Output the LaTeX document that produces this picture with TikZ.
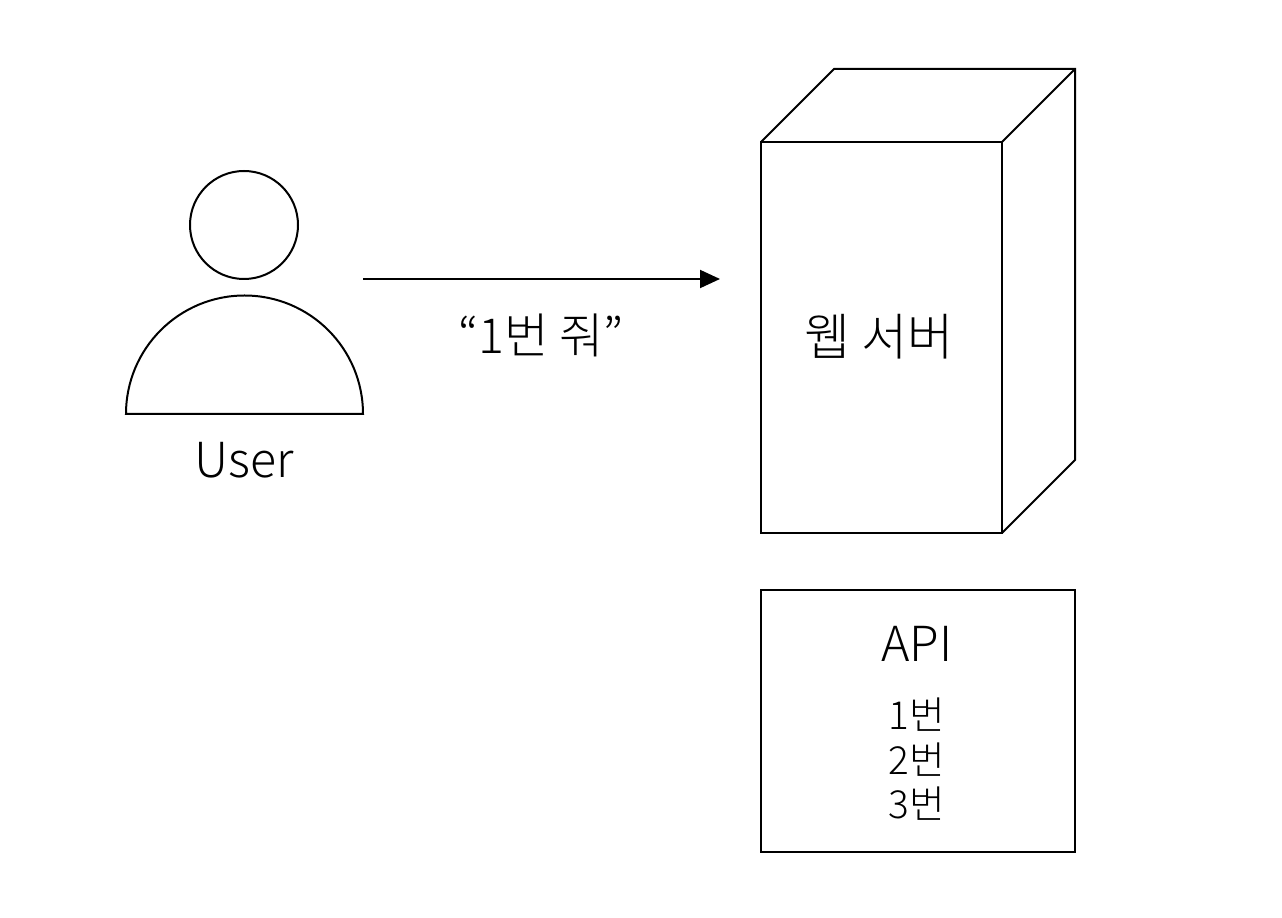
\documentclass[tikz,border=0pt]{standalone}
\usepackage{fontspec}
\setmainfont{Noto Sans CJK KR}[Scale=1.0,UprightFont=* Light]
\usetikzlibrary{arrows.meta}

\begin{document}
\begin{tikzpicture}[
  x=0.02cm, y=-0.02cm,
  font=\normalsize,
  tratto/.style={draw=black, line width=0.04cm},
  etichetta/.style={inner sep=0pt, scale=2.75},
  piccola/.style={inner sep=0pt, scale=2.2}
]
\useasboundingbox (0,0) rectangle (1282,918);

%--------------------------------------------------------------
% Utente
%--------------------------------------------------------------
\draw[tratto] (244,225) circle (54);
\draw[tratto] (126,414) arc[start angle=180, end angle=360, radius=118.5] -- cycle;
\node[etichetta] (utente) at (244,460) {User};

%--------------------------------------------------------------
% Richiesta
%--------------------------------------------------------------
\coordinate (da) at (363,279);
\coordinate (a) at (720,279);
\draw[tratto, -{Triangle[length=0.4cm, width=0.36cm]}] (da) -- (a);
\node[etichetta] (richiesta) at (541,335) {“1번 줘”};

%--------------------------------------------------------------
% Server
%--------------------------------------------------------------
\draw[tratto, line join=miter] (761,142) rectangle (1002,533);
\draw[tratto] (761,142) -- (834,69) -- (1075,69) -- (1075,460) -- (1002,533);
\draw[tratto] (1002,142) -- (1075,69);
\node[etichetta, scale=1.04] (server) at (879,337) {웹 서버};

%--------------------------------------------------------------
% API
%--------------------------------------------------------------
\draw[tratto] (761,590) rectangle (1075,852);
\node[etichetta] (api) at (917,644) {API};
\node[piccola] (uno) at (917,715) {1번};
\node[piccola] (due) at (917,760) {2번};
\node[piccola] (tre) at (917,804) {3번};

\end{tikzpicture}
\end{document}
